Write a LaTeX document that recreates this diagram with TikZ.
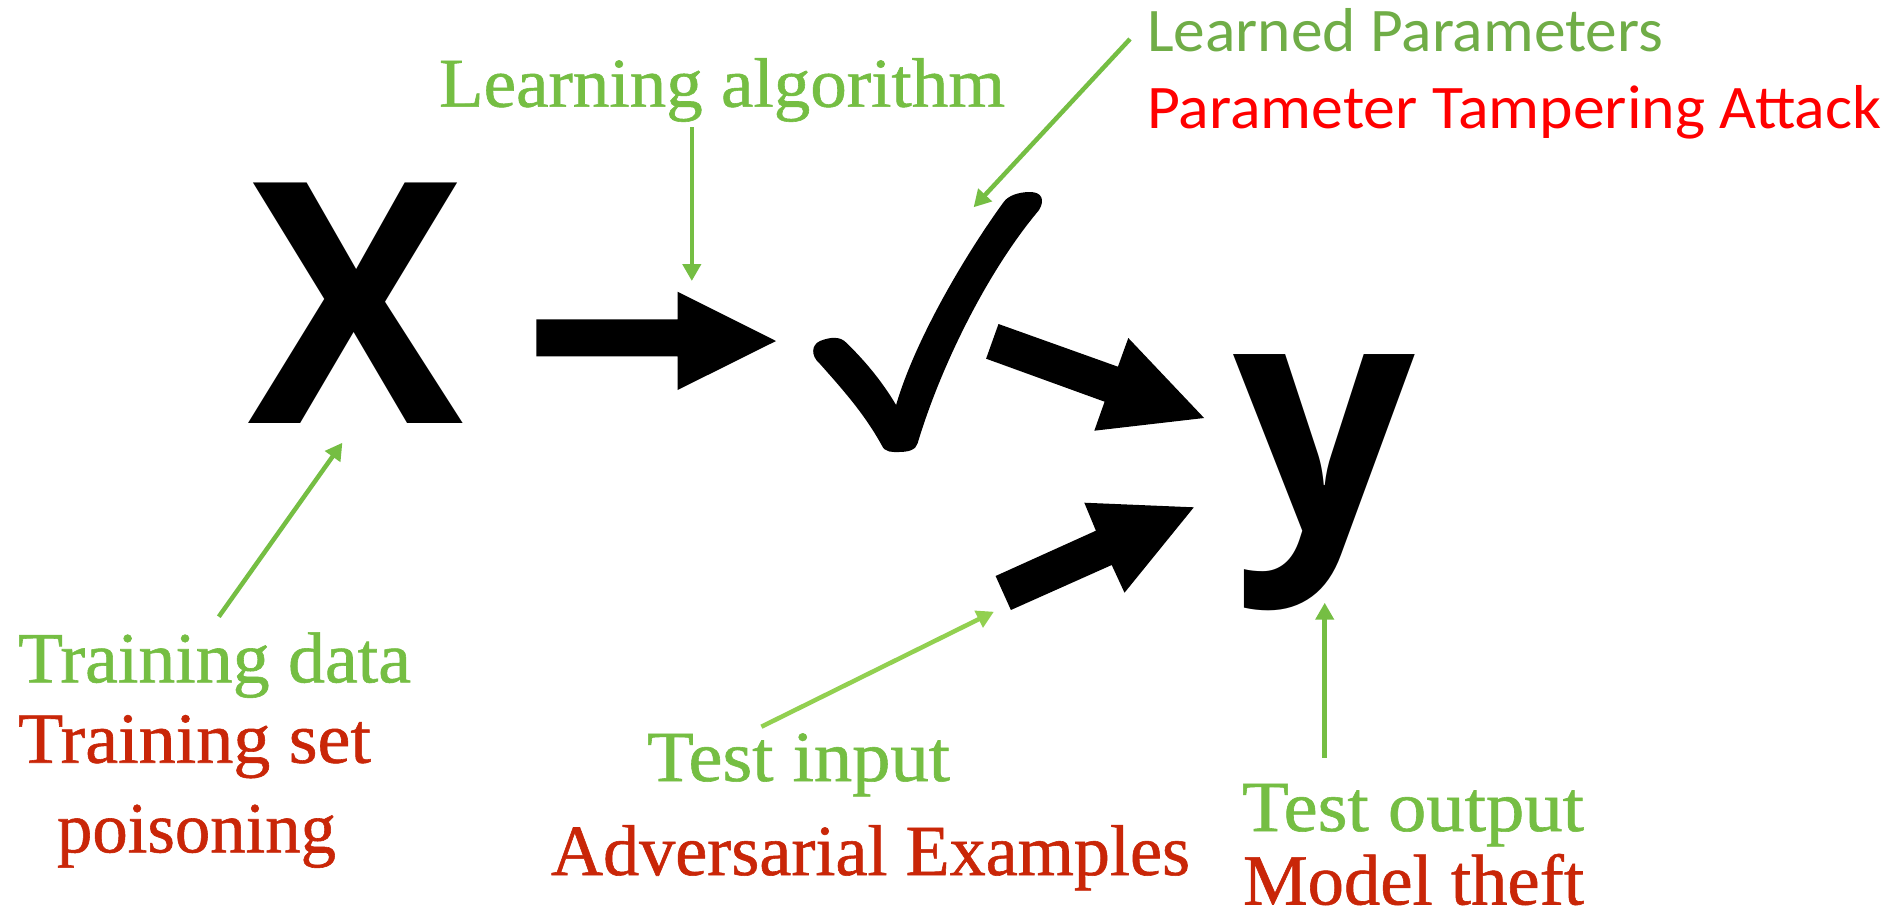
\documentclass[tikz,border=0pt]{standalone}
\usepackage{fontspec}
\usepackage{graphicx}
\setmainfont[FakeBold=0.8]{Liberation Serif}
\newfontfamily\calibri{Carlito}
\newfontfamily\opensans{Open Sans}
\usetikzlibrary{arrows.meta}
\definecolor{lgreen}{RGB}{117,190,67}
\definecolor{pgreen}{RGB}{112,173,71}
\definecolor{tgreen}{RGB}{146,208,80}
\definecolor{dred}{RGB}{201,38,8}
\definecolor{bred}{RGB}{255,0,0}
\newcommand\fitw[2]{\resizebox{#1pt}{\height}{#2}}
\tikzset{
  lbl/.style={anchor=base west, inner sep=0pt, outer sep=0pt},
  serif/.style={lbl, font=\fontsize{72}{72}\selectfont},
  sans/.style={lbl, font=\calibri\fontsize{62}{62}\selectfont},
  big/.style={lbl, font=\opensans\bfseries\fontsize{337}{337}\selectfont},
  garrow/.style={draw=lgreen, line width=4.5pt, -{Triangle[width=18pt,length=17pt]}},
  blockarrow/.style={fill=black},
}
\begin{document}
\begin{tikzpicture}[x=1pt,y=-1pt]
\useasboundingbox[fill=white] (0,0) rectangle (1900,911);

% big letters
\node[big] (X) at (248,423.3) {\scalebox{0.955}[1]{X}};
\node[big, font=\opensans\bfseries\fontsize{326}{326}\selectfont] (Y) at (1233,532.6) {\scalebox{0.98}[1]{y}};

% check mark
\fill (896.1,405) .. controls (880,378) and (862,358) .. (846.3,342.7)
  .. controls (840,336) and (830,337) .. (820,341)
  .. controls (811,345) and (811,356) .. (819.4,363.3)
  .. controls (845,392) and (865,415) .. (881.6,445)
  .. controls (885,453) and (893,452) .. (899,452)
  .. controls (908,452) and (916,450) .. (917.6,443.3)
  .. controls (942,362) and (990,268) .. (1039.1,210)
  .. controls (1045,200) and (1042,192) .. (1030,192)
  .. controls (1018,192) and (1008,196) .. (1003.9,201.7)
  .. controls (965,255) and (915,340) .. (896.1,405) -- cycle;

% block arrows
\fill[blockarrow] (536.4,319.3) -- (677.6,319.3) -- (677.6,291.7) -- (776,341) -- (677.6,390) -- (677.6,356.3) -- (536.4,356.3) -- cycle;
\fill[blockarrow] (998.5,324) -- (1117.9,366.7) -- (1128.3,338) -- (1204.1,418) -- (1094.3,430.7) -- (1104.6,401.7) -- (986.1,358.7) -- cycle;
\fill[blockarrow] (995.6,576) -- (1095.9,530.7) -- (1084.3,502.7) -- (1193.8,507.3) -- (1124.5,592.7) -- (1111.7,565) -- (1010.9,610) -- cycle;

% labels
\node[serif, font=\fontsize{70}{70}\selectfont, text=lgreen] (la) at (439,106.7) {\fitw{566}{Learning algorithm}};
\node[sans, text=pgreen] (lp) at (1147,51.7) {\fitw{516}{Learned Parameters}};
\node[sans, text=bred] (pta) at (1147,128.3) {\fitw{734}{Parameter Tampering Attack}};
\node[serif, text=lgreen] (td) at (18,682.3) {\fitw{393}{Training data}};
\node[serif, text=dred] (ts) at (18,762.7) {\fitw{353}{Training set}};
\node[serif, text=dred] (po) at (57,852.3) {\fitw{279}{poisoning}};
\node[serif, text=lgreen] (ti) at (647,781) {\fitw{303}{Test input}};
\node[serif, text=dred] (ae) at (551,875) {\fitw{639}{Adversarial Examples}};
\node[serif, text=lgreen] (to) at (1242,831) {\fitw{342}{Test output}};
\node[serif, text=dred] (mt) at (1243,904.5) {\fitw{341}{Model theft}};

% connector end points
\coordinate (laT) at (691.8,127.3);
\coordinate (laH) at (691.8,281);
\coordinate (lpT) at (1130,39);
\coordinate (lpH) at (973.6,207.3);
\coordinate (tdT) at (218.8,616.7);
\coordinate (tdH) at (342.4,442.7);
\coordinate (tiT) at (761.4,726.7);
\coordinate (tiH) at (993.9,611.7);
\coordinate (toT) at (1324.7,757.7);
\coordinate (toH) at (1324.7,602.7);

\draw[garrow] (laT) -- (laH);
\draw[garrow] (lpT) -- (lpH);
\draw[garrow] (tdT) -- (tdH);
\draw[garrow, draw=tgreen] (tiT) -- (tiH);
\draw[garrow] (toT) -- (toH);
\end{tikzpicture}
\end{document}
